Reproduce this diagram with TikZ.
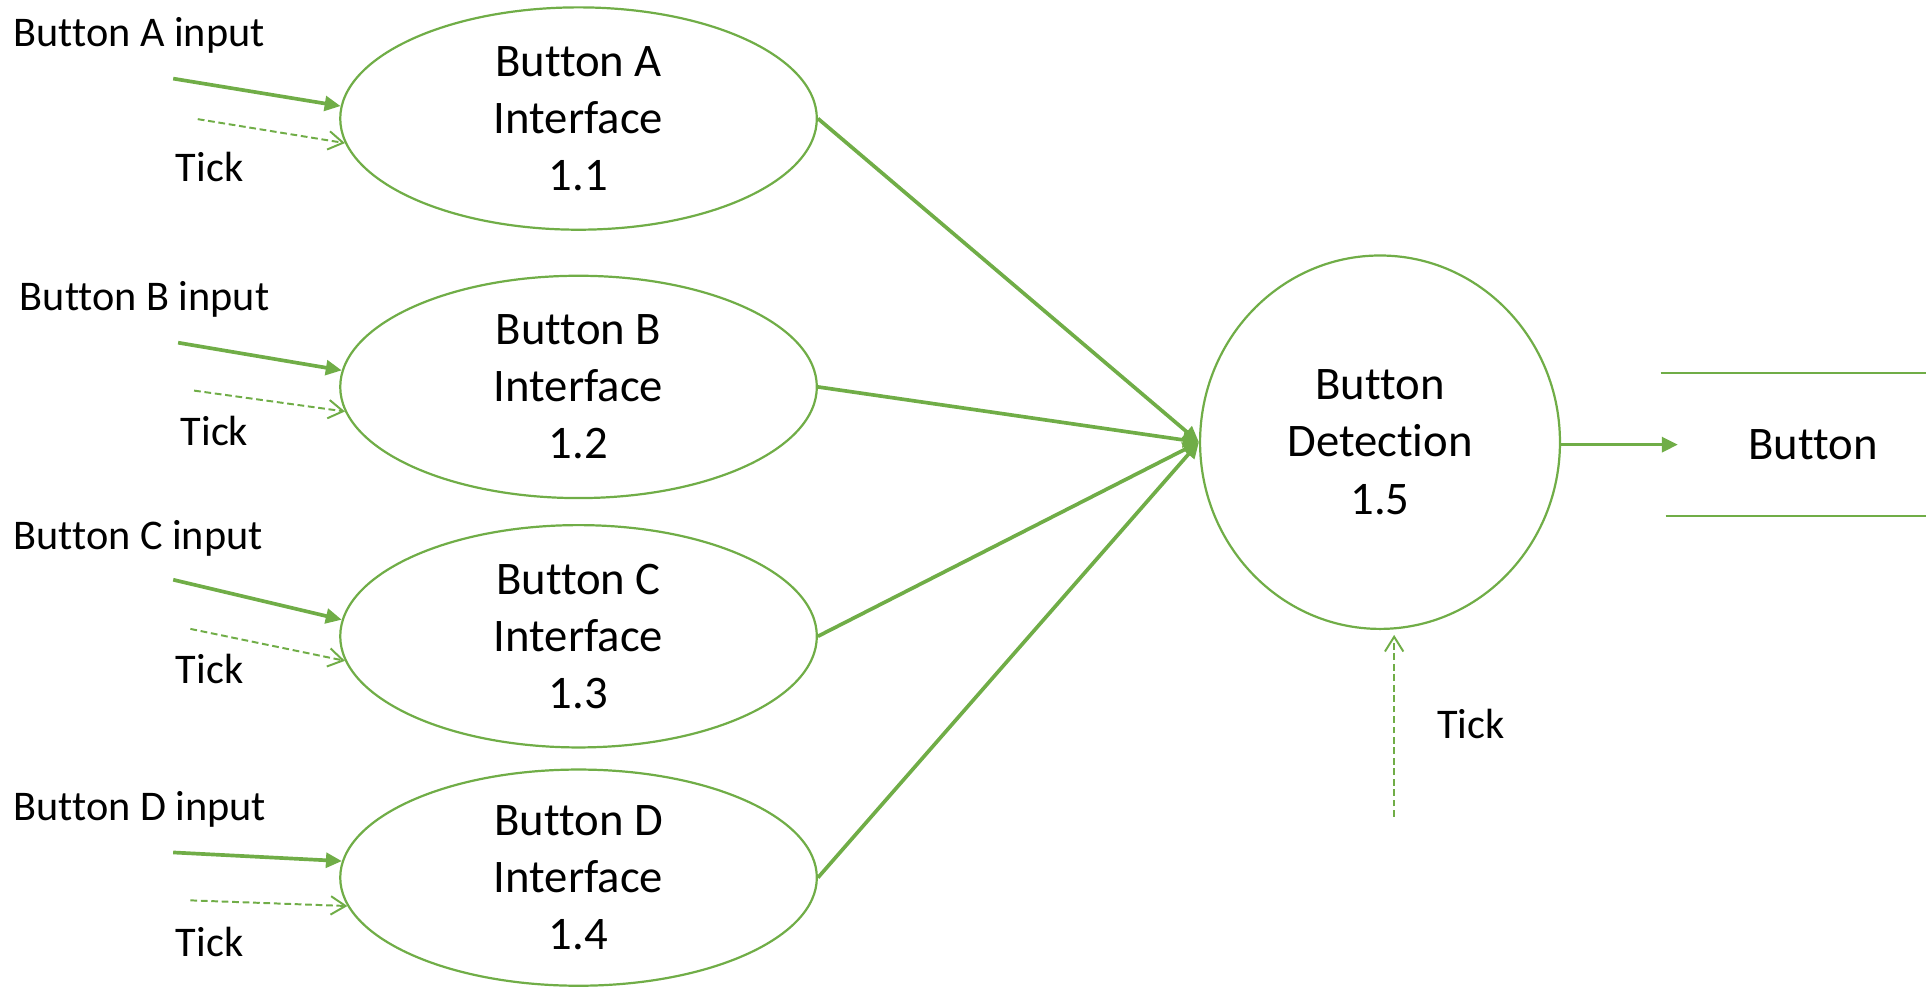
\documentclass[tikz,border=0pt]{standalone}
\usepackage{fontspec}
\setmainfont{Carlito}[Ligatures=NoCommon]
\usetikzlibrary{shapes.geometric,arrows.meta}
\definecolor{grn}{HTML}{70AD47}
\begin{document}
\begin{tikzpicture}[x=1pt,y=-1pt,
  proc/.style={ellipse, draw=grn, line width=1.8pt, align=center, inner sep=0pt,
    font=\fontsize{38}{46.5}\selectfont, minimum width=388pt, minimum height=181pt},
  lbl/.style={font=\fontsize{34.4}{40}\selectfont, inner sep=0pt, anchor=west},
  flow/.style={draw=grn, line width=3pt, -{Triangle[length=13pt,width=12pt]}},
  tickarrow/.style={draw=grn, line width=1.6pt, dash pattern=on 5.5pt off 3pt,
    -{Straight Barb[length=12pt,width=15pt,line width=1.6pt]}},
  storeline/.style={draw=grn, line width=1.5pt},
]
\useasboundingbox (0,0) rectangle (1568,803);

% process nodes
\node[proc] (A) at (471,96.5) {Button A\\Interface\\1.1};
\node[proc] (B) at (471,315) {Button B\\Interface\\1.2};
\node[proc] (C) at (471,518) {Button C\\Interface\\1.3};
\node[proc, minimum height=176pt] (D) at (471,714.5) {Button D\\Interface\\1.4};
\node[proc, minimum width=293pt, minimum height=304pt] (E) at (1123.5,360) {Button\\Detection\\1.5};

% labels
\node[lbl] (la) at (11,29) {Button A input};
\node[lbl] (ta) at (143,136) {Tick};
\node[lbl] (lb) at (16,244) {Button B input};
\node[lbl] (tb) at (147,351) {Tick};
\node[lbl] (lc) at (11,438) {Button C input};
\node[lbl] (tc) at (143,545) {Tick};
\node[lbl] (ld) at (11,659) {Button D input};
\node[lbl] (td) at (143,767) {Tick};
\node[lbl] (te) at (1170,589) {Tick};

% free ends
\coordinate (ina) at (141,64);
\coordinate (dta) at (161,97);
\coordinate (inb) at (145,279);
\coordinate (dtb) at (158,318);
\coordinate (inc) at (141,472);
\coordinate (dtc) at (155,512);
\coordinate (ind) at (141,694);
\coordinate (dtd) at (155,733);
\coordinate (dte) at (1135,665);
\coordinate (outtip) at (1366,362);

% inputs
\draw[flow] (ina) -- (A.177);
\draw[tickarrow] (dta) -- (A.186);
\draw[flow] (inb) -- (B.176);
\draw[tickarrow] (dtb) -- (B.186);
\draw[flow] (inc) -- (C.176);
\draw[tickarrow] (dtc) -- (C.186);
\draw[flow] (ind) -- (D.176);
\draw[tickarrow] (dtd) -- (D.187);

% to detection
\draw[flow] (A.east) -- (E.west);
\draw[flow] (B.east) -- (E.west);
\draw[flow] (C.east) -- (E.west);
\draw[flow] (D.east) -- (E.west);

% output
\draw[flow] (E.east |- outtip) -- (outtip);
\draw[tickarrow] (dte) -- ([yshift=-4pt]dte |- E.south);

% data store
\coordinate (s1) at (1352,304);
\coordinate (s2) at (1568,304);
\coordinate (s3) at (1356,420);
\coordinate (s4) at (1568,420);
\draw[storeline] (s1) -- (s2);
\draw[storeline] (s3) -- (s4);
\node[font=\fontsize{38}{46.5}\selectfont, inner sep=0pt] (out) at (1476,362) {Button};
\end{tikzpicture}
\end{document}
